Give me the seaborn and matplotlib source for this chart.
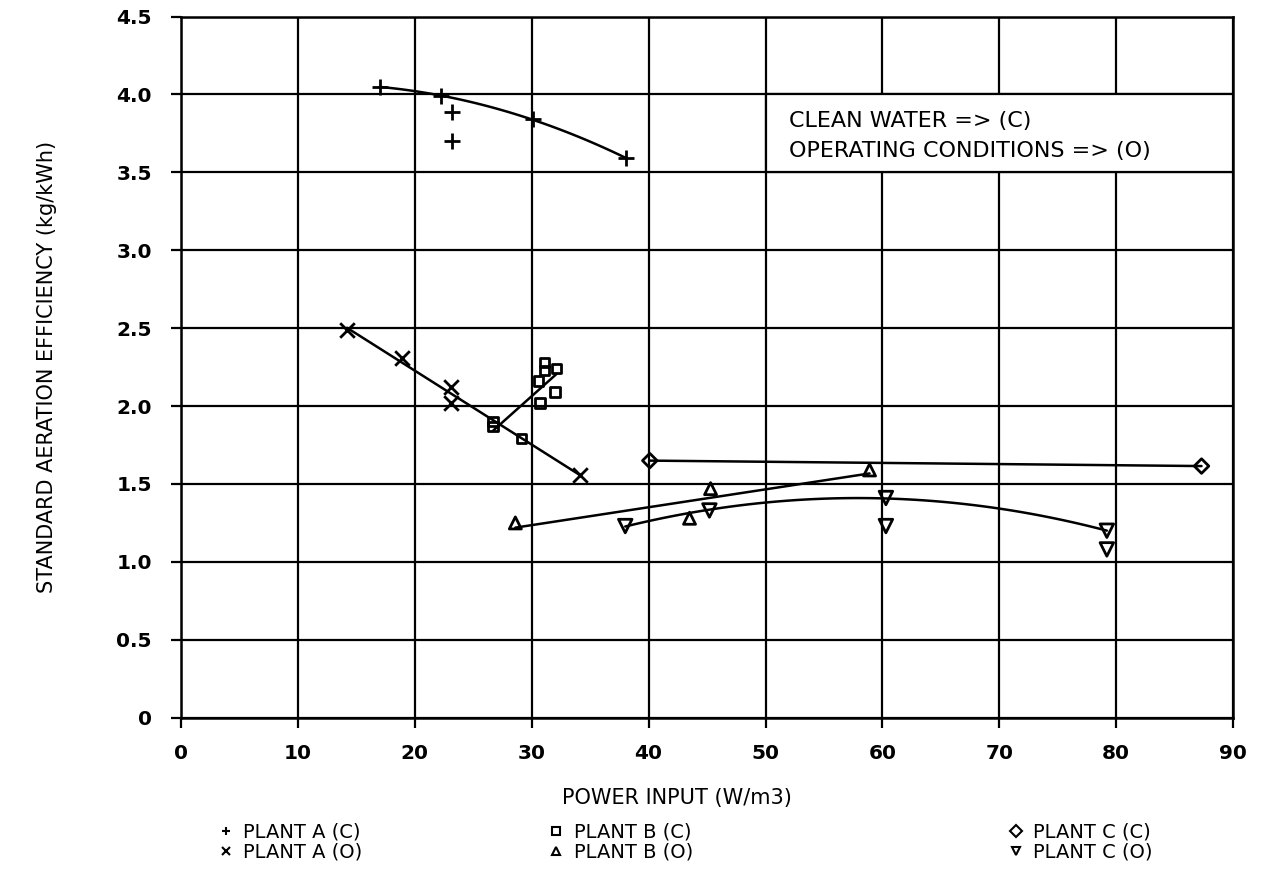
import numpy as np
import seaborn as sns
import pandas as pd
import matplotlib.pyplot as plt
from matplotlib.lines import Line2D
from matplotlib.patches import Rectangle

# values
a_c_x = [17.0, 22.2, 23.2, 23.2, 30.1, 38.1]
a_c_y = [4.05, 3.99, 3.89, 3.70, 3.84, 3.59]
a_c_fit = [True, True, False, False, True, True]
a_o_x = [14.2, 18.9, 23.1, 23.1, 34.1]
a_o_y = [2.49, 2.31, 2.12, 2.02, 1.56]
a_o_fit = [True] * 5
b_c_x = [26.7, 26.7, 29.1, 30.7, 30.6, 31.1, 31.1, 32.1, 32.0]
b_c_y = [1.90, 1.87, 1.79, 2.02, 2.16, 2.28, 2.23, 2.24, 2.09]
b_c_fit = [True] * 9
b_o_x = [28.6, 43.5, 45.3, 58.9]
b_o_y = [1.25, 1.28, 1.47, 1.59]
b_o_fit = [True] * 4
c_c_x = [40.1, 87.3]
c_c_y = [1.65, 1.615]
c_c_fit = [True] * 2
c_o_x = [38.0, 45.2, 60.3, 60.3, 79.2, 79.2]
c_o_y = [1.23, 1.33, 1.41, 1.23, 1.20, 1.08]
c_o_fit = [True, True, True, False, True, False]

x_ticks = list(range(0, 91, 10))
y_ticks = [0, 0.5, 1.0, 1.5, 2.0, 2.5, 3.0, 3.5, 4.0, 4.5]
y_ticklabels = ["0", "0.5", "1.0", "1.5", "2.0", "2.5", "3.0", "3.5", "4.0", "4.5"]

# (label, x, y, points used for the fit, marker, marker size, fit order)
series = [
    ("PLANT A (C)", a_c_x, a_c_y, a_c_fit, "+", 130, 2),
    ("PLANT A (O)", a_o_x, a_o_y, a_o_fit, "x", 110, 1),
    ("PLANT B (C)", b_c_x, b_c_y, b_c_fit, "s", 45, 1),
    ("PLANT B (O)", b_o_x, b_o_y, b_o_fit, "^", 75, 1),
    ("PLANT C (C)", c_c_x, c_c_y, c_c_fit, "D", 55, 1),
    ("PLANT C (O)", c_o_x, c_o_y, c_o_fit, "v", 95, 2),
]

sns.set_style("ticks")
plt.rcParams["font.family"] = ["DejaVu Sans"]
plt.rcParams["text.color"] = "black"
plt.rcParams["axes.labelcolor"] = "black"
plt.rcParams["xtick.color"] = "black"
plt.rcParams["ytick.color"] = "black"

fig = plt.figure(figsize=(12.66, 8.71), dpi=100)
ax = fig.add_axes([0.143, 0.176, 0.831, 0.805])

for name, xs, ys, use, mk, sz, order in series:
    df = pd.DataFrame({"x": xs, "y": ys, "use": use})
    sns.regplot(data=df[df["use"]], x="x", y="y", ax=ax, order=order, ci=None,
                scatter=False, truncate=True,
                line_kws=dict(color="black", lw=1.8, zorder=3))
    if mk in ("+", "x"):
        sns.scatterplot(data=df, x="x", y="y", ax=ax, marker=mk, s=sz,
                        color="black", linewidth=2.0, zorder=4)
    else:
        sns.scatterplot(data=df, x="x", y="y", ax=ax, marker=mk, s=sz,
                        facecolor="none", edgecolor="black", linewidth=2.0,
                        zorder=4)

ax.set_xlim(0, 90)
ax.set_ylim(0, 4.5)
ax.set_xticks(x_ticks)
ax.set_yticks(y_ticks)
ax.set_yticklabels(y_ticklabels)
ax.set_axisbelow(True)
ax.grid(True, color="black", lw=1.6)
for s in ax.spines.values():
    s.set_color("black")
    s.set_linewidth(1.8)
ax.tick_params(axis="both", length=7, width=1.6, labelsize=14.5)
ax.tick_params(axis="y", pad=14)
ax.tick_params(axis="x", pad=12)
for lab in ax.get_xticklabels() + ax.get_yticklabels():
    lab.set_fontweight("bold")

ax.set_xlabel("POWER INPUT (W/m3)", fontsize=15)
ax.xaxis.set_label_coords(0.471, -0.1)
ax.set_ylabel("STANDARD AERATION EFFICIENCY (kg/kWh)", fontsize=15)
ax.yaxis.set_label_coords(-0.118, 0.5)

# note box sits exactly in the grid cell 50-90 x 3.5-4.0
ax.add_patch(Rectangle((50, 3.5), 40, 0.5, facecolor="white",
                       edgecolor="black", lw=1.6, zorder=2.5))
ax.text(52, 3.83, "CLEAN WATER => (C)", fontsize=16, va="center", zorder=5)
ax.text(52, 3.64, "OPERATING CONDITIONS => (O)", fontsize=16, va="center", zorder=5)

# legend below the axes, three columns of two
handles = []
for name, xs, ys, use, mk, sz, order in series:
    handles.append(Line2D([], [], ls="none", marker=mk, color="black",
                          mfc="none", mec="black", ms=6, mew=1.5, label=name))
anchors = [0.163, 0.424, 0.787]
for i in range(3):
    fig.legend(handles=handles[2 * i:2 * i + 2], loc="upper left",
               bbox_to_anchor=(anchors[i], 0.067), frameon=False,
               fontsize=14, handletextpad=0.4, labelspacing=0.05,
               handlelength=1.0, borderpad=0)

fig.savefig("out.png", dpi=100)
